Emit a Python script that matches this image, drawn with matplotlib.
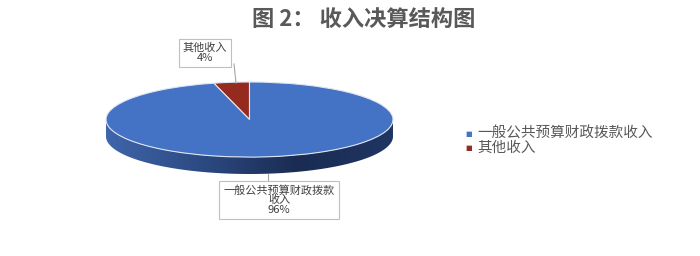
import numpy as np
import matplotlib.pyplot as plt
from matplotlib.patches import Polygon
from matplotlib.colors import LinearSegmentedColormap

plt.rcParams['font.family'] = ['Noto Sans CJK SC', 'DejaVu Sans']

# data
TITLE = "图 2： 收入决算结构图"
LABELS = ["一般公共预算财政拨款收入", "其他收入"]
SHARES = [96, 4]
COLORS = ["#4472C4", "#952A1E"]

fig = plt.figure(figsize=(7, 2.56), dpi=100)
fig.text(0.52, 0.925, TITLE, ha="center", va="center", fontsize=16,
         fontweight="bold", color="#595959")

# pie axes: squashed circle gives the tilted look
depth = 0.45
ax = fig.add_axes([106 / 700, 82 / 256, 287 / 700, 92 / 256])
ax.axis("off")

# side of the disc, shaded left to right
t = np.linspace(np.pi, 2 * np.pi, 200)
xs = np.cos(t)
ys = np.sin(t)
side = np.concatenate([np.column_stack([xs, ys]),
                       np.column_stack([xs[::-1], ys[::-1] - depth])])
poly = Polygon(side, closed=True, facecolor="none", edgecolor="none")
ax.add_patch(poly)
grad = np.linspace(0, 1, 256).reshape(1, -1)
cmap = LinearSegmentedColormap.from_list("side", ["#3f65aa", "#2c4a82", "#1a2c52", "#1f3563"])
im = ax.imshow(grad, extent=[-1, 1, -1 - depth, 0], aspect="auto", cmap=cmap, zorder=1)
im.set_clip_path(poly)

# top face; small slice goes counter-clockwise from 12 o'clock
wedges, _ = ax.pie(SHARES[::-1], colors=COLORS[::-1], startangle=90, counterclock=True,
                   radius=1, wedgeprops=dict(edgecolor="#dfe6f2", linewidth=0.8))
for w in wedges:
    w.set_zorder(2)
ax.set_aspect("auto")
ax.set_xlim(-1, 1)
ax.set_ylim(-1 - depth, 1)

# data labels with leader lines (figure pixel coords)
def px(x, y):
    return (x / 700, 1 - y / 256)

box = dict(boxstyle="square,pad=0.35", facecolor="white", edgecolor="#bfbfbf", linewidth=0.8)
fig.text(*px(205, 53), f"{LABELS[1]}\n{SHARES[1]}%", ha="center", va="center",
         fontsize=8, color="#404040", bbox=box, linespacing=1.0)
fig.add_artist(plt.Line2D([234 / 700, 236 / 700], [1 - 64 / 256, 1 - 83 / 256],
                          color="#a6a6a6", linewidth=0.8))
fig.text(*px(279, 200), "一般公共预算财政拨款\n收入\n" + f"{SHARES[0]}%", ha="center",
         va="center", fontsize=8, color="#404040", bbox=box, linespacing=1.0)
fig.add_artist(plt.Line2D([268 / 700, 268 / 700], [1 - 174 / 256, 1 - 183 / 256],
                          color="#a6a6a6", linewidth=0.8))

# legend
for i, lab in enumerate(LABELS):
    y = 134 + i * 14
    fig.text(*px(465, y), "■", ha="left", va="center", fontsize=5, color=COLORS[i],
             family=["DejaVu Sans"])
    fig.text(*px(477, y), lab, ha="left", va="center", fontsize=10.5, color="#595959")

fig.savefig("out.png", dpi=100)
